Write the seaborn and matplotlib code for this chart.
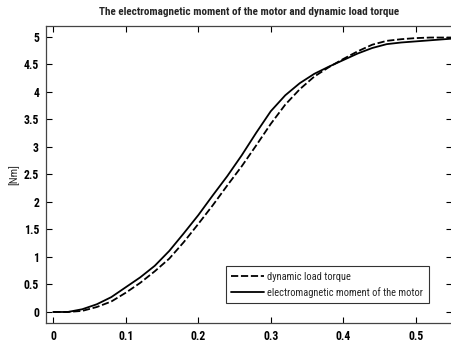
import matplotlib
matplotlib.use("Agg")
import matplotlib.pyplot as plt
from matplotlib import font_manager
import seaborn as sns
import pandas as pd

time_s = [0, 0.02, 0.04, 0.06, 0.08, 0.10, 0.12, 0.14, 0.16, 0.18, 0.20, 0.22, 0.24,
          0.26, 0.28, 0.30, 0.32, 0.34, 0.36, 0.38, 0.40, 0.42, 0.44, 0.46, 0.48,
          0.50, 0.52, 0.55]
em_moment = [0, 0.0, 0.05, 0.14, 0.27, 0.45, 0.63, 0.84, 1.11, 1.43, 1.76, 2.12, 2.47,
             2.85, 3.26, 3.65, 3.94, 4.16, 4.33, 4.46, 4.58, 4.70, 4.80, 4.87, 4.90,
             4.92, 4.94, 4.97]
load_torque = [0, 0.0, 0.02, 0.09, 0.19, 0.35, 0.53, 0.74, 0.97, 1.27, 1.60, 1.94, 2.30,
               2.65, 3.03, 3.42, 3.77, 4.05, 4.28, 4.45, 4.60, 4.74, 4.86, 4.93, 4.96,
               4.98, 4.99, 4.99]
x_ticks = [0, 0.1, 0.2, 0.3, 0.4, 0.5]
y_ticks = [0, 0.5, 1, 1.5, 2, 2.5, 3, 3.5, 4, 4.5, 5]
label_load = "dynamic load torque"
label_em = "electromagnetic moment of the motor"

sns.set_style("white")
entries = font_manager.fontManager.ttflist
names = {f.name for f in entries}
cands = ["Liberation Sans Narrow", "Roboto Condensed", "Open Sans Condensed",
         "DejaVu Sans Condensed"]
narrow = None
for c in cands:
    if c in names:
        narrow = c
        break
stretch = "normal"
if narrow is None:
    narrow = "DejaVu Sans"
    stretch = "condensed"
plt.rcParams["font.family"] = [narrow, "DejaVu Sans"]
plt.rcParams["font.stretch"] = stretch

df = pd.concat([
    pd.DataFrame({"t": time_s, "v": load_torque, "s": label_load}),
    pd.DataFrame({"t": time_s, "v": em_moment, "s": label_em}),
])

fig = plt.figure(figsize=(4.52, 3.42), dpi=100)
ax = fig.add_axes([0.1018, 0.0556, 0.8982, 0.8684])
sns.lineplot(data=df, x="t", y="v", hue="s", style="s",
             palette=["black", "black"], dashes=[(4, 1.5), ""],
             linewidth=1.3, ax=ax, sort=False)

ax.set_xlim(-0.01, 0.55)
ax.set_ylim(-0.2, 5.2)
ax.set_xticks(x_ticks)
ax.set_xticklabels([f"{v:g}" for v in x_ticks], fontweight="bold", fontsize=8.5,
                   fontstretch=stretch)
ax.set_yticks(y_ticks)
ax.set_yticklabels([f"{v:g}" for v in y_ticks], fontweight="bold", fontsize=8.5,
                   fontstretch=stretch)
ax.tick_params(direction="in", length=4, width=0.8, top=True, right=True,
               bottom=True, left=True, pad=5, colors="black")
for sp in ax.spines.values():
    sp.set_color("#444444")
    sp.set_linewidth(0.9)
ax.set_xlabel("")
ax.set_ylabel("[Nm]", fontsize=8, labelpad=3, fontstretch=stretch)
ax.set_title("The electromagnetic moment of the motor and dynamic load torque",
             fontweight="bold", fontsize=8, pad=8, fontstretch=stretch)
leg = ax.legend(loc="lower right", bbox_to_anchor=(0.955, 0.05),
                prop={"size": 7.5, "stretch": stretch},
                frameon=True, fancybox=False, edgecolor="black",
                handlelength=3.2, borderpad=0.5, labelspacing=0.5, handletextpad=0.3)
leg.get_frame().set_linewidth(0.8)
fig.savefig("out.png", dpi=100)
